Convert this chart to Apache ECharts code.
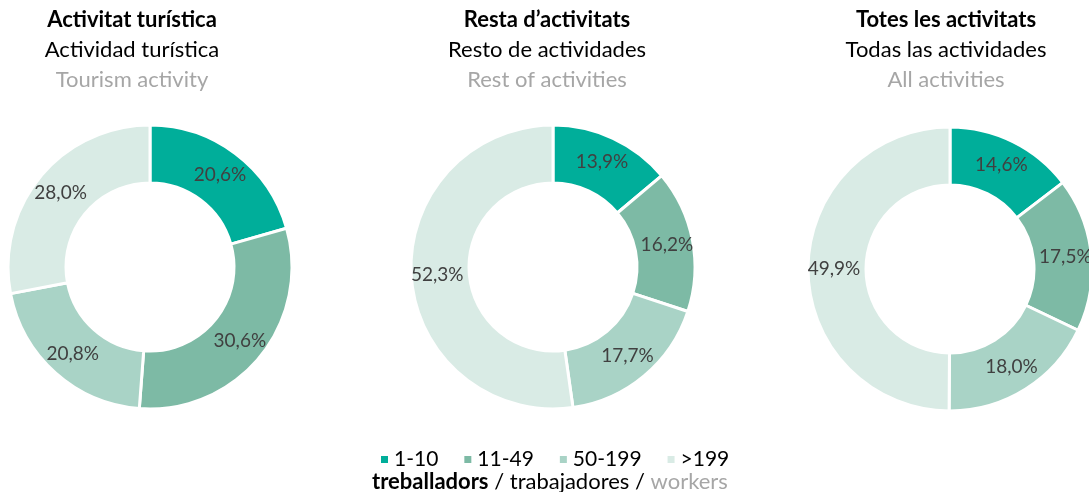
<!DOCTYPE html>
<html>
<head>
<meta charset="utf-8">
<script src="https://cdn.jsdelivr.net/npm/echarts@6/dist/echarts.min.js"></script>
<style>
  html, body { margin: 0; padding: 0; background: #fff; }
  #chart { width: 1089px; height: 492px; }
</style>
</head>
<body>
<div id="chart"></div>
<script>
// categories (size of company, workers)
const categories = ['1-10', '11-49', '50-199', '>199'];
const colors = ['#00ae9a', '#7dbaa5', '#a9d3c6', '#d9ebe5'];

// shares per group (%)
const tourismValues = [20.6, 30.6, 20.8, 28.0];
const restValues = [13.9, 16.2, 17.7, 52.3];
const allValues = [14.6, 17.5, 18.0, 49.9];

const panelTitles = [
  ['Activitat turística', 'Actividad turística', 'Tourism activity'],
  ['Resta d\u2019activitats', 'Resto de actividades', 'Rest of activities'],
  ['Totes les activitats', 'Todas las actividades', 'All activities']
];

const FONT = 'Lato, "Open Sans", sans-serif';
const centers = [[150, 267], [553, 267], [950, 269]];
const titleX = [127, 542, 941];
const panels = [tourismValues, restValues, allValues];

const chart = echarts.init(document.getElementById('chart'));

// titles, three lines each
const titles = panelTitles.map((t, i) => ({
  text: '{b|' + t[0] + '}\n{n|' + t[1] + '}\n{g|' + t[2] + '}',
  left: titleX[i],
  top: 0,
  textAlign: 'center',
  textStyle: {
    fontWeight: 'normal',
    rich: {
      b: { fontFamily: FONT, fontSize: 22, fontWeight: 'bold', color: '#000', lineHeight: 30 },
      n: { fontFamily: FONT, fontSize: 22, fontWeight: 'normal', color: '#000', lineHeight: 30 },
      g: { fontFamily: FONT, fontSize: 22, fontWeight: 'normal', color: '#a6a6a6', lineHeight: 30 }
    }
  }
}));

const series = panels.map((vals, i) => ({
  type: 'pie',
  center: centers[i],
  radius: [84, 142],
  startAngle: 90,
  clockwise: true,
  avoidLabelOverlap: false,
  silent: true,
  itemStyle: { borderColor: '#fff', borderWidth: 3 },
  label: {
    show: true,
    position: 'inside',
    formatter: p => p.value.toFixed(1).replace('.', ',') + '%',
    fontFamily: FONT,
    fontSize: 19,
    color: '#404040'
  },
  labelLine: { show: false },
  data: categories.map((c, j) => ({ name: c, value: vals[j] }))
}));

chart.setOption({
  animation: false,
  color: colors,
  title: titles,
  legend: {
    data: categories,
    top: 444,
    left: 374,
    icon: 'rect',
    itemWidth: 9,
    itemHeight: 9,
    itemGap: 24,
    textStyle: { fontFamily: FONT, fontSize: 21, color: '#000' }
  },
  graphic: [{
    type: 'text',
    left: 372,
    top: 471,
    style: {
      text: '{b|treballadors} / trabajadores / {g|workers}',
      font: '22px ' + FONT,
      fill: '#000',
      rich: {
        b: { fontFamily: FONT, fontSize: 22, fontWeight: 'bold', fill: '#000' },
        g: { fontFamily: FONT, fontSize: 22, fill: '#a6a6a6' }
      }
    }
  }],
  series: series
});
</script>
</body>
</html>
